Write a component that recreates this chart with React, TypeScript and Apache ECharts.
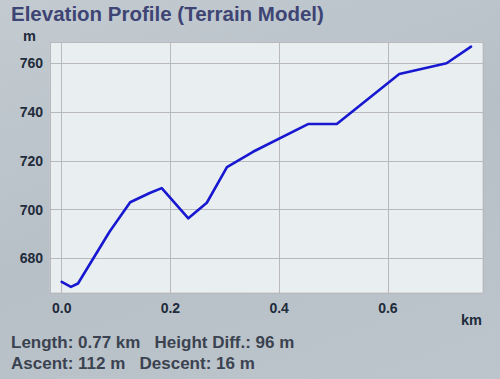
import React, { useEffect, useRef } from "react";
import * as echarts from "echarts";

const distanceKm = [0, 0.017, 0.03, 0.088, 0.126, 0.162, 0.184, 0.233, 0.267, 0.304, 0.352, 0.454, 0.506, 0.621, 0.708, 0.753];
const elevationM = [670.4, 668.3, 669.7, 690.9, 703, 706.8, 708.8, 696.4, 702.8, 717.4, 723.7, 735.1, 735.1, 755.6, 760, 766.8];
const titleText = "Elevation Profile (Terrain Model)";
const statsLine1 = "Length: 0.77 km   Height Diff.: 96 m";
const statsLine2 = "Ascent: 112 m   Descent: 16 m";

export default function App() {
  const ref = useRef<HTMLDivElement>(null);
  useEffect(() => {
    if (!ref.current) return;
    const chart = echarts.init(ref.current, undefined, { renderer: "svg" });
    const data = distanceKm.map((d, i) => [d, elevationM[i]]);
    const labelColor = "#1f2b3a";
    chart.setOption({
      animation: false,
      backgroundColor: "transparent",
      textStyle: { fontFamily: "Liberation Sans" },
      grid: {
        left: 50,
        top: 42,
        width: 433,
        height: 251,
        show: true,
        backgroundColor: "#e9eff0",
        borderColor: "#c3c8cc",
        borderWidth: 1,
      },
      xAxis: {
        type: "value",
        min: -0.0215,
        max: 0.775,
        splitNumber: 4,
        minInterval: 0.2,
        maxInterval: 0.2,
        axisLine: { show: false },
        axisTick: { show: false },
        splitLine: { show: true, lineStyle: { color: "#b9b9bd", width: 1 } },
        axisLabel: {
          showMinLabel: false,
          showMaxLabel: false,
          color: labelColor,
          fontWeight: "bold",
          fontSize: 14,
          margin: 8,
          formatter: (v: number) => v.toFixed(1),
        },
      },
      yAxis: {
        type: "value",
        min: 665.8,
        max: 768.7,
        minInterval: 20,
        maxInterval: 20,
        axisLine: { show: false },
        axisTick: { show: false },
        splitLine: { show: true, lineStyle: { color: "#b9b9bd", width: 1 } },
        axisLabel: {
          showMinLabel: false,
          showMaxLabel: false,
          color: labelColor,
          fontWeight: "bold",
          fontSize: 14,
          margin: 7,
        },
      },
      series: [
        {
          type: "line",
          data,
          symbol: "none",
          lineStyle: { color: "#1818d0", width: 2.6, cap: "round", join: "round" },
        },
      ],
      graphic: [
        {
          type: "text",
          left: 11,
          top: 3,
          style: {
            text: titleText,
            fill: "#3e4574",
            font: "bold 20.5px 'Liberation Sans'",
          },
        },
        {
          type: "text",
          left: 23,
          top: 28,
          style: { text: "m", fill: labelColor, font: "bold 14.5px 'Liberation Sans'" },
        },
        {
          type: "text",
          left: 461,
          top: 312,
          style: { text: "km", fill: labelColor, font: "bold 14.5px 'Liberation Sans'" },
        },
        {
          type: "text",
          left: 11,
          top: 334,
          style: { text: statsLine1, fill: "#3b4250", font: "bold 17px 'Liberation Sans'" },
        },
        {
          type: "text",
          left: 11,
          top: 355,
          style: { text: statsLine2, fill: "#3b4250", font: "bold 17px 'Liberation Sans'" },
        },
      ],
    });
    return () => chart.dispose();
  }, []);
  return (
    <div
      style={{
        position: "fixed",
        left: 0,
        top: 0,
        width: 500,
        height: 379,
        background: "linear-gradient(160deg, #c3cbd1 0%, #b7c0c7 50%, #bcc5cb 100%)",
      }}
    >
      <div ref={ref} style={{ width: 500, height: 379 }} />
    </div>
  );
}
